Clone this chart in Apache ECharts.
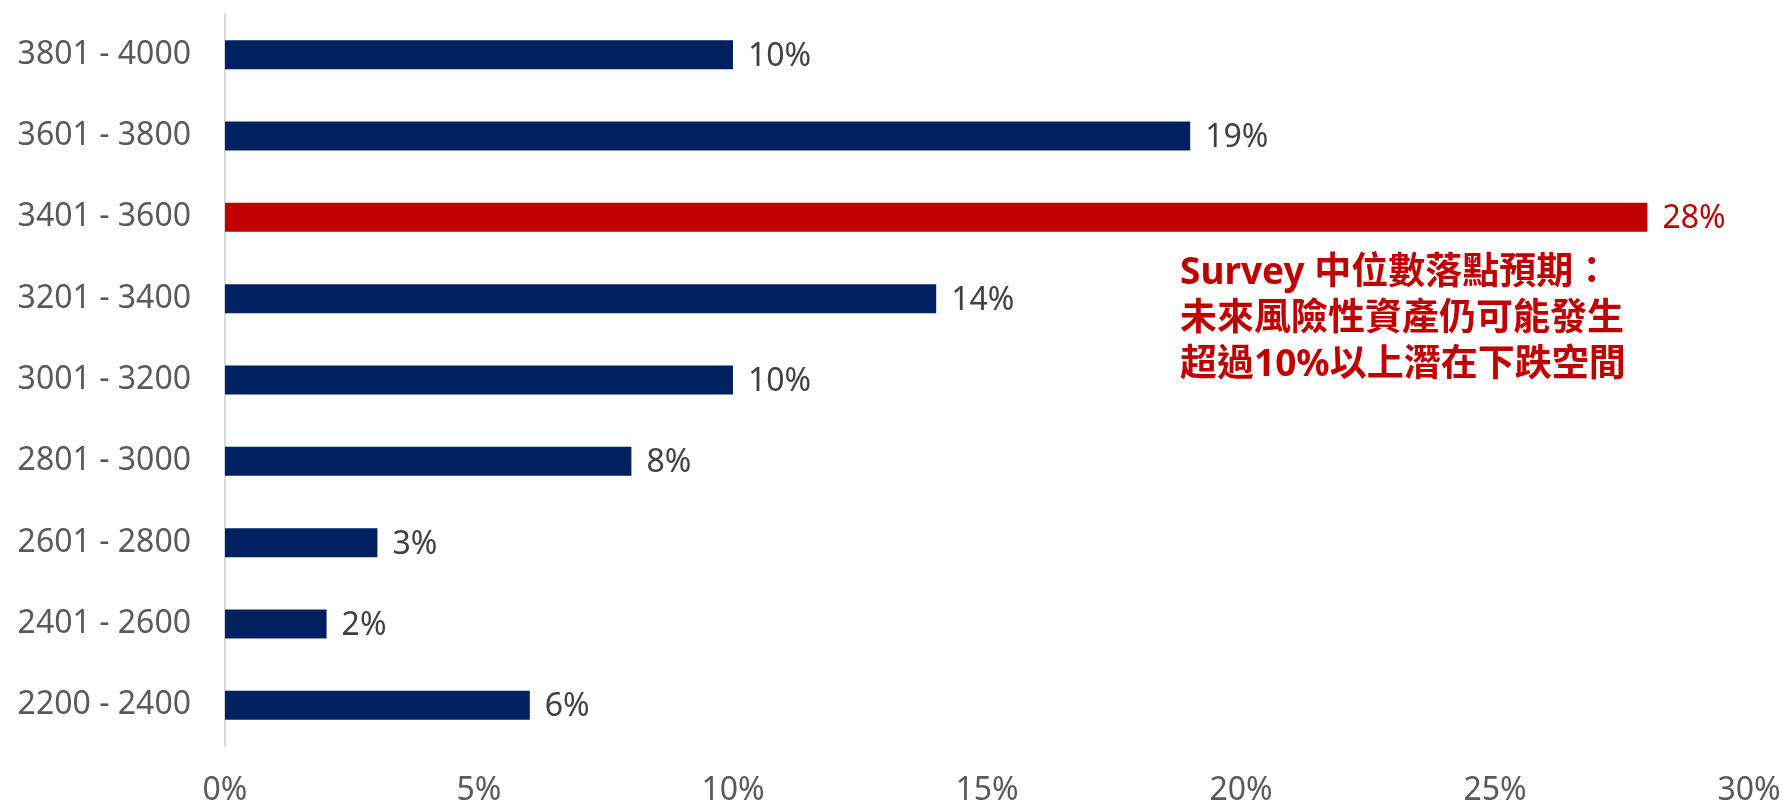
<!DOCTYPE html>
<html>
<head>
<meta charset="utf-8">
<script src="https://cdn.jsdelivr.net/npm/echarts@6/dist/echarts.min.js"></script>
<style>
html,body{margin:0;padding:0;background:#fff;}
#chart{width:1785px;height:809px;}
</style>
</head>
<body>
<div id="chart"></div>
<script>
var categories = ["2200 - 2400","2401 - 2600","2601 - 2800","2801 - 3000","3001 - 3200","3201 - 3400","3401 - 3600","3601 - 3800","3801 - 4000"];
var values = [6, 2, 3, 8, 10, 14, 28, 19, 10];
var highlightCategory = "3401 - 3600";
var xTicks = [0, 5, 10, 15, 20, 25, 30];
var annotationLines = ["Survey 中位數落點預期：", "未來風險性資產仍可能發生", "超過10%以上潛在下跌空間"];

var NAVY = "#002060", RED = "#C00000";
var FONT = "'Noto Sans', 'Noto Sans CJK TC', sans-serif";

var chart = echarts.init(document.getElementById('chart'));
var seriesData = values.map(function (v, i) {
  var hl = categories[i] === highlightCategory;
  return {
    value: v,
    itemStyle: { color: hl ? RED : NAVY },
    label: { color: hl ? RED : '#404040' }
  };
});

chart.setOption({
  animation: false,
  grid: { left: 225, right: 36, top: 14, bottom: 63, containLabel: false },
  xAxis: {
    type: 'value',
    min: xTicks[0],
    max: xTicks[xTicks.length - 1],
    interval: 5,
    axisLine: { show: false },
    axisTick: { show: false },
    splitLine: { show: false },
    axisLabel: {
      formatter: '{value}%',
      fontSize: 32,
      fontFamily: FONT,
      color: '#595959',
      margin: 29
    }
  },
  yAxis: {
    type: 'category',
    data: categories,
    axisLine: { show: true, lineStyle: { color: '#D9D9D9', width: 2 } },
    axisTick: { show: false },
    axisLabel: {
      fontSize: 32,
      fontFamily: FONT,
      color: '#595959',
      margin: 34
    }
  },
  series: [{
    type: 'bar',
    data: seriesData,
    barWidth: 29,
    label: {
      show: true,
      position: 'right',
      distance: 15,
      formatter: '{c}%',
      fontSize: 32,
      fontFamily: FONT,
      offset: [0, 2]
    }
  }],
  graphic: [{
    type: 'text',
    left: 1180,
    top: 250,
    style: {
      text: annotationLines.join('\n'),
      fill: RED,
      font: 'bold 37px ' + FONT,
      lineHeight: 46
    }
  }]
});
</script>
</body>
</html>
